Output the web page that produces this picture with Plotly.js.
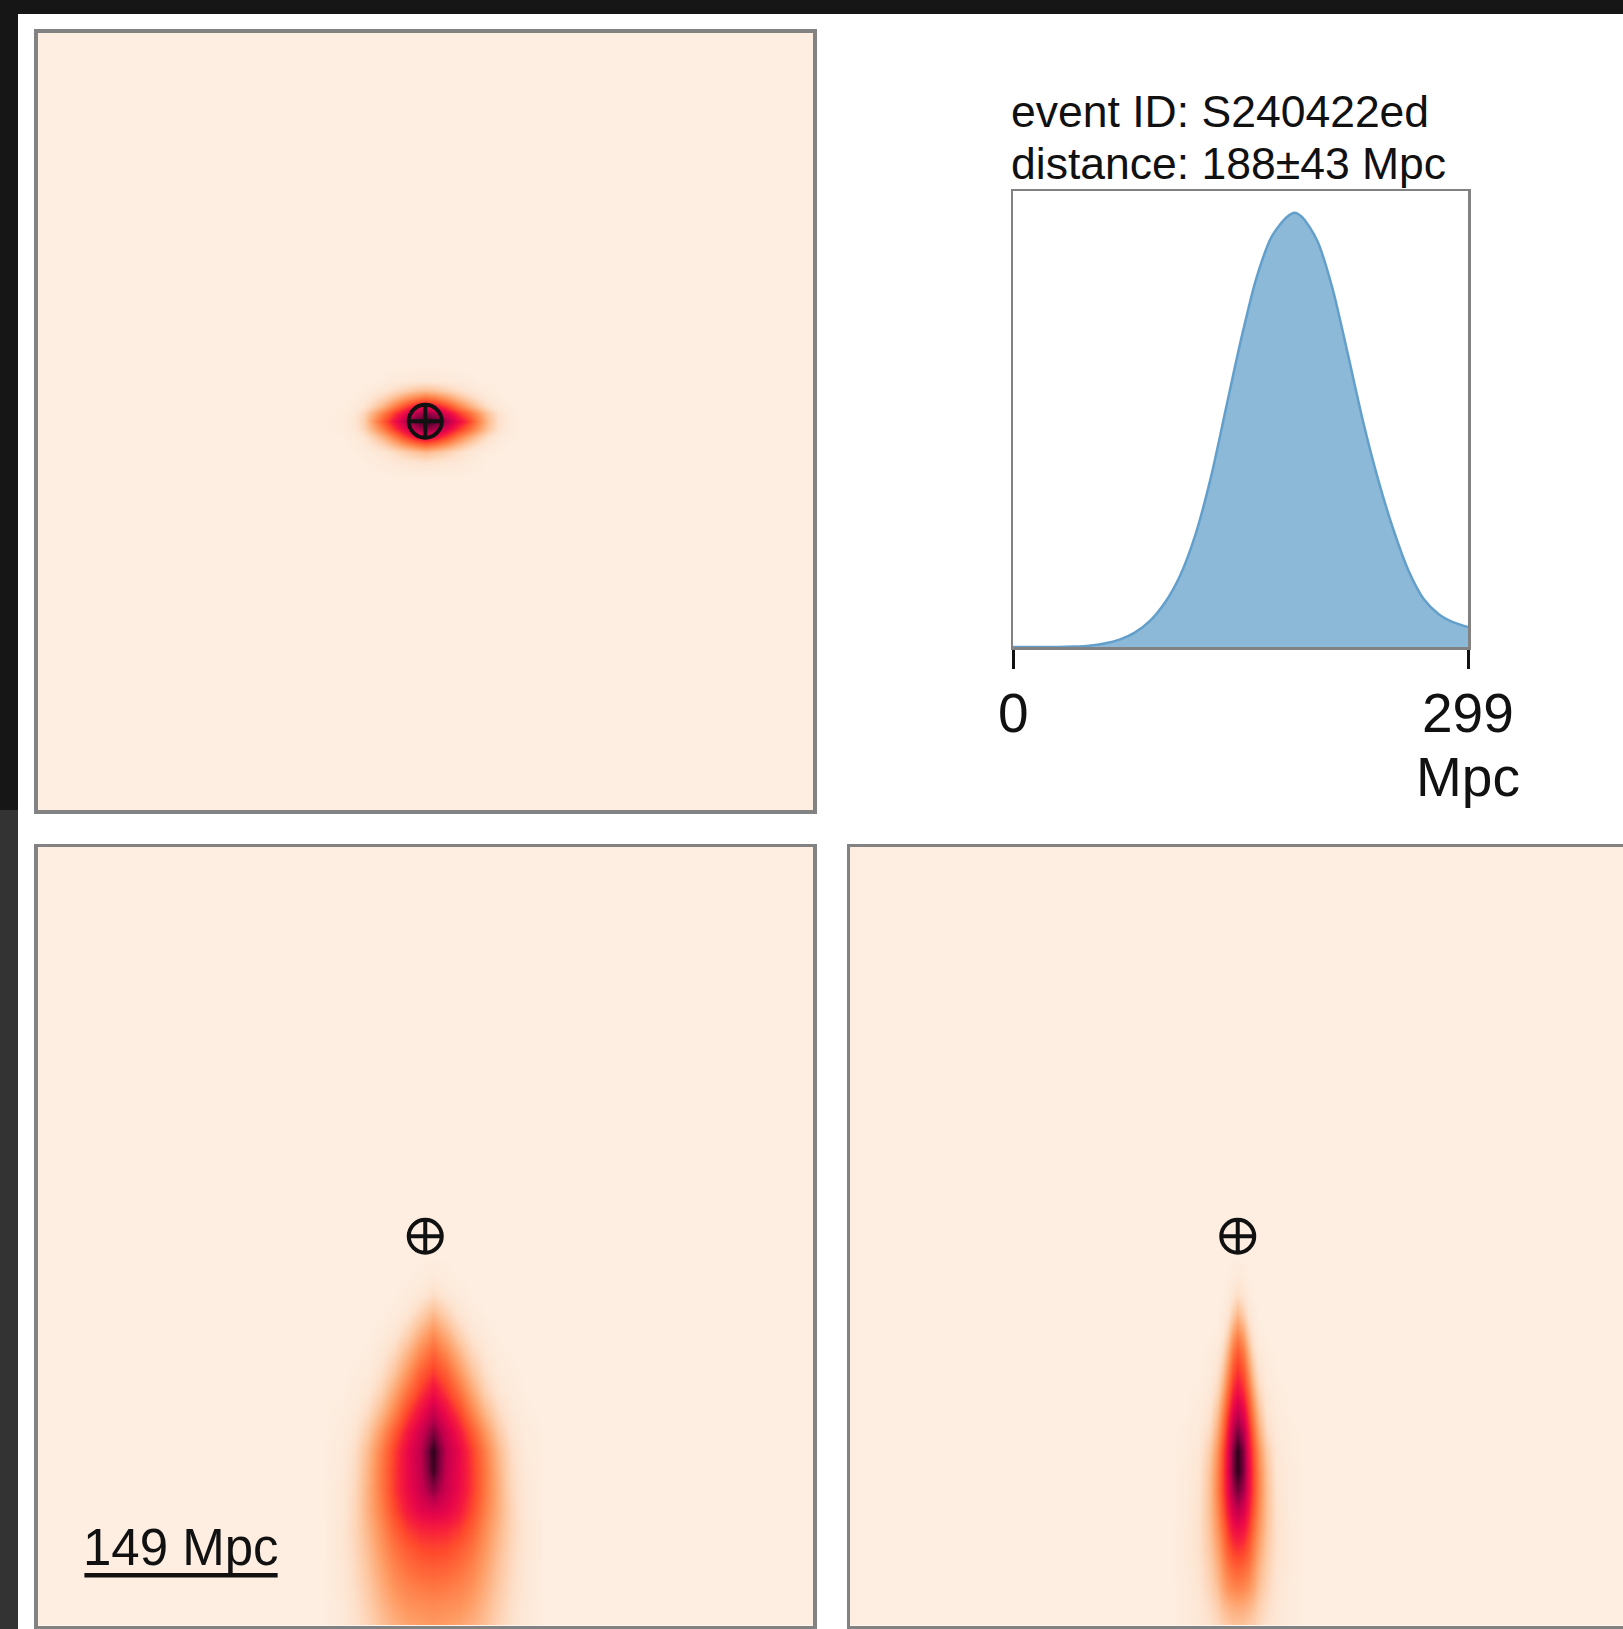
<!DOCTYPE html>
<html>
<head>
<meta charset="utf-8">
<script src="https://cdn.plot.ly/plotly-3.0.1.min.js"></script>
<style>
  html, body { margin: 0; padding: 0; width: 1623px; height: 1629px; overflow: hidden; background: #161616; }
  #edge { position: absolute; left: 0; top: 810px; width: 18px; height: 819px; background: #333333; }
  #fig { position: absolute; left: 18px; top: 14px; width: 1640px; height: 1615px; background: #ffffff; }
</style>
</head>
<body>
<div id="edge"></div>
<div id="fig"></div>
<script>
// ---- event summary ----
const EVENT_ID = 'S240422ed';
const DIST_MEAN = 188;      // Mpc
const DIST_STD = 43;        // Mpc
const DIST_MAX = 299;       // Mpc, half-range of the projections and upper limit of the histogram
const SCALE_MPC = 149;      // Mpc, length of the scale bar

// ---- marginal distance posterior (normalised to its peak) ----
const histDist = [0, 10, 20, 30, 40, 50, 60, 70, 80, 90, 100, 110, 120, 130, 140, 150,
                  160, 170, 180, 185, 190, 200, 210, 220, 230, 240, 250, 260, 270, 280, 290, 299];
const histDensity = [0, 0, 0, 0, 0.001, 0.003, 0.008, 0.017, 0.033, 0.06, 0.103, 0.166,
                     0.26, 0.39, 0.55, 0.71, 0.85, 0.945, 0.99, 1.0, 0.99, 0.935, 0.825, 0.675,
                     0.52, 0.385, 0.27, 0.175, 0.11, 0.075, 0.056, 0.046];

// ---- observer position in every projection ----
const earthX = [0];
const earthY = [0];

// ---- projection seen along the line of sight (top left), density in % of peak ----
const tlX = [-80, -64, -56, -48, -40, -32, -24, -16, -8, 0, 8, 16, 24, 32, 40, 48, 56, 64, 72, 88];
const tlY = [-42, -32, -24, -18, -12, -6, 0, 6, 12, 18, 24, 32, 42];
const tlZ = [
  [0,0,0,0,0,0,0,0,0,0,0,0,0,0,0,0,0,0,0,0],
  [0,0,0,0,1,2,4,5,6,7,6,5,4,2,1,0,0,0,0,0],
  [0,0,0,1,3,6,10,14,18,21,18,14,10,6,3,1,0,0,0,0],
  [0,0,1,3,8,14,22,30,37,42,38,31,23,15,9,4,1,0,0,0],
  [0,0,2,6,14,25,37,49,60,66,61,51,39,28,18,9,3,1,0,0],
  [0,1,4,12,25,39,53,65,77,84,79,68,56,44,32,19,8,2,0,0],
  [0,1,5,14,31,48,62,76,88,96,91,80,67,54,38,22,9,3,0,0],
  [0,1,4,12,25,39,53,65,77,84,79,68,56,44,32,19,8,2,0,0],
  [0,0,2,6,14,25,37,49,60,66,61,51,39,28,18,9,3,1,0,0],
  [0,0,1,3,8,14,22,30,37,42,38,31,23,15,9,4,1,0,0,0],
  [0,0,0,1,3,6,10,14,18,20,18,14,10,6,3,1,0,0,0,0],
  [0,0,0,0,0,1,2,3,4,4,4,3,2,1,0,0,0,0,0,0],
  [0,0,0,0,0,0,0,0,0,0,0,0,0,0,0,0,0,0,0,0]
];

// ---- side projection (bottom left) ----
const blX = [-79, -64, -54, -44, -34, -24, -14, -4, 6, 16, 26, 36, 46, 56, 66, 76, 91];
const blY = [-300, -285, -270, -255, -240, -225, -210, -195, -180, -165, -150, -135, -120,
             -105, -90, -75, -60, -45, -30, -15];
const blZ = [
  [0,4,8,13,19,24,27,29,30,29,27,24,19,13,8,4,0],
  [0,4,9,15,22,28,32,33,34,33,32,28,22,15,9,4,0],
  [0,5,10,17,25,32,36,38,39,38,36,32,25,17,10,5,0],
  [0,5,11,19,28,36,41,44,45,44,41,36,28,19,11,5,0],
  [0,6,12,21,31,40,46,50,51,50,46,40,31,21,12,6,0],
  [0,6,13,23,34,45,53,57,58,57,53,45,34,23,13,6,0],
  [0,5,13,25,37,50,60,67,70,67,60,50,37,25,13,5,0],
  [0,5,12,25,39,53,64,73,84,73,64,53,39,25,12,5,0],
  [0,4,11,24,39,53,65,75,94,75,65,53,39,24,11,4,0],
  [0,3,10,22,37,52,65,76,96,76,65,52,37,22,10,3,0],
  [0,2,7,17,31,46,60,72,86,72,60,46,31,17,7,2,0],
  [0,1,4,11,22,36,51,63,74,63,51,36,22,11,4,1,0],
  [0,0,2,6,14,27,41,53,63,53,41,27,14,6,2,0,0],
  [0,0,1,3,9,19,32,45,53,45,32,19,9,3,1,0,0],
  [0,0,0,1,5,12,23,35,44,35,23,12,5,1,0,0,0],
  [0,0,0,0,2,6,14,25,34,25,14,6,2,0,0,0,0],
  [0,0,0,0,0,2,6,14,22,14,6,2,0,0,0,0,0],
  [0,0,0,0,0,0,2,5,10,5,2,0,0,0,0,0,0],
  [0,0,0,0,0,0,0,1,3,1,0,0,0,0,0,0,0],
  [0,0,0,0,0,0,0,0,0,0,0,0,0,0,0,0,0]
];

// ---- side projection (bottom right) ----
const brX = [-50, -40, -30, -22, -16, -12, -8, -4, 0, 4, 8, 12, 16, 22, 30, 40, 50];
const brY = blY;
const brZ = [
  [0,2,4,8,11,14,16,18,18,18,16,14,11,8,4,2,0],
  [0,2,5,10,15,20,23,25,26,25,23,20,15,10,5,2,0],
  [0,2,6,13,20,27,32,35,36,35,32,27,20,13,6,2,0],
  [0,3,7,15,24,32,39,43,45,43,39,32,24,15,7,3,0],
  [0,3,8,17,28,37,46,52,54,52,46,37,28,17,8,3,0],
  [0,3,8,19,32,42,53,61,64,61,53,42,32,19,8,3,0],
  [0,2,8,20,35,47,59,70,76,70,59,47,35,20,8,2,0],
  [0,2,7,20,37,50,64,80,88,80,64,50,37,20,7,2,0],
  [0,2,6,19,36,50,66,86,96,86,66,50,36,19,6,2,0],
  [0,1,5,16,33,48,64,85,96,85,64,48,33,16,5,1,0],
  [0,1,3,11,27,42,59,77,87,77,59,42,27,11,3,1,0],
  [0,0,2,7,20,35,51,66,75,66,51,35,20,7,2,0,0],
  [0,0,1,4,13,26,42,56,63,56,42,26,13,4,1,0,0],
  [0,0,0,2,8,18,33,48,55,48,33,18,8,2,0,0,0],
  [0,0,0,1,4,11,24,39,47,39,24,11,4,1,0,0,0],
  [0,0,0,0,1,5,14,28,36,28,14,5,1,0,0,0,0],
  [0,0,0,0,0,2,6,15,22,15,6,2,0,0,0,0,0],
  [0,0,0,0,0,0,2,6,10,6,2,0,0,0,0,0,0],
  [0,0,0,0,0,0,0,2,3,2,0,0,0,0,0,0,0],
  [0,0,0,0,0,0,0,0,0,0,0,0,0,0,0,0,0]
];

// ---- figure geometry (page pixels -> paper fractions) ----
const FIG_LEFT = 18, FIG_TOP = 14, FIG_W = 1640, FIG_H = 1615;
const px = v => (v - FIG_LEFT) / FIG_W;
const py = v => 1 - (v - FIG_TOP) / FIG_H;

const FONT = 'Liberation Sans, Arial, Helvetica, sans-serif';
const CREAM = '#fdeee1';
const FRAME = '#828282';
const INK = '#111111';

const densityScale = [
  [0.00, '#fdeee1'],
  [0.08, '#fde3cf'],
  [0.18, '#fdc7a0'],
  [0.30, '#fe9c64'],
  [0.40, '#ff7440'],
  [0.50, '#ff4a2c'],
  [0.58, '#f71e3c'],
  [0.66, '#e8064a'],
  [0.76, '#c2004c'],
  [0.86, '#80003e'],
  [0.94, '#3c0020'],
  [1.00, '#120006']
];

function densityTrace(x, y, z, xa, ya) {
  return {
    type: 'heatmap', x: x, y: y, z: z, xaxis: xa, yaxis: ya,
    zmin: 0, zmax: 100, zsmooth: 'best', colorscale: densityScale,
    showscale: false, hoverinfo: 'skip'
  };
}

function earthTrace(xa, ya) {
  return {
    type: 'scatter', mode: 'markers', x: earthX, y: earthY, xaxis: xa, yaxis: ya,
    marker: { symbol: 'circle-cross-open', size: 33, color: INK, line: { width: 4, color: INK } },
    hoverinfo: 'skip', showlegend: false
  };
}

const scaleX0 = -0.879 * DIST_MAX;
const scaleY = -0.871 * DIST_MAX;

const traces = [
  densityTrace(tlX, tlY, tlZ, 'x', 'y'),
  densityTrace(blX, blY, blZ, 'x2', 'y2'),
  densityTrace(brX, brY, brZ, 'x3', 'y3'),
  earthTrace('x', 'y'),
  earthTrace('x2', 'y2'),
  earthTrace('x3', 'y3'),
  {
    type: 'scatter', mode: 'lines', x: [scaleX0, scaleX0 + SCALE_MPC], y: [scaleY, scaleY],
    xaxis: 'x2', yaxis: 'y2', line: { color: INK, width: 4.5 }, hoverinfo: 'skip', showlegend: false
  },
  {
    type: 'scatter', mode: 'lines', x: histDist, y: histDensity, xaxis: 'x4', yaxis: 'y4',
    fill: 'tozeroy', fillcolor: '#8db9d8', line: { color: '#639fcb', width: 2.5, shape: 'spline', smoothing: 0.8 },
    hoverinfo: 'skip', showlegend: false
  }
];

function panelAxis(domain, anchor) {
  return {
    domain: domain, anchor: anchor, range: [-DIST_MAX, DIST_MAX],
    showgrid: false, zeroline: false, showticklabels: false, ticks: '',
    showline: true, mirror: true, linecolor: FRAME, linewidth: 3.5, fixedrange: true
  };
}

const xTop = [px(37.5), px(813)];
const xRight = [px(850), px(1625.5)];
const yTop = [py(810), py(32.5)];
const yBottom = [py(1625.5), py(847)];

function creamRect(xr, yr) {
  return {
    type: 'rect', xref: xr + ' domain', yref: yr + ' domain', x0: 0, x1: 1, y0: 0, y1: 1,
    fillcolor: CREAM, line: { width: 0 }, layer: 'below'
  };
}

function tickLabel(value, text, top) {
  return {
    xref: 'x4', yref: 'paper', x: value, y: py(top), xanchor: 'center', yanchor: 'top',
    text: text, showarrow: false, font: { size: 55, family: FONT, color: INK }
  };
}

const layout = {
  width: FIG_W, height: FIG_H,
  margin: { l: 0, r: 0, t: 0, b: 0 },
  paper_bgcolor: '#ffffff', plot_bgcolor: 'rgba(0,0,0,0)',
  showlegend: false,
  font: { family: FONT, color: INK },
  xaxis: panelAxis(xTop, 'y'),
  yaxis: panelAxis(yTop, 'x'),
  xaxis2: panelAxis(xTop, 'y2'),
  yaxis2: panelAxis(yBottom, 'x2'),
  xaxis3: panelAxis(xRight, 'y3'),
  yaxis3: panelAxis(yBottom, 'x3'),
  xaxis4: {
    domain: [px(1013), px(1468)], anchor: 'y4', range: [0, DIST_MAX],
    showgrid: false, zeroline: false, showline: true, mirror: true, linecolor: FRAME, linewidth: 2.5,
    ticks: 'outside', ticklen: 19, tickwidth: 3, tickcolor: INK,
    tickvals: [0, DIST_MAX], showticklabels: false, fixedrange: true
  },
  yaxis4: {
    domain: [py(647), py(191)], anchor: 'x4', range: [0, 1.05],
    showgrid: false, zeroline: false, showline: true, mirror: true, linecolor: FRAME, linewidth: 2.5,
    showticklabels: false, ticks: '', fixedrange: true
  },
  shapes: [creamRect('x', 'y'), creamRect('x2', 'y2'), creamRect('x3', 'y3')],
  annotations: [
    {
      xref: 'paper', yref: 'paper', x: px(1009), y: py(138), xanchor: 'left', yanchor: 'bottom',
      text: 'event ID: ' + EVENT_ID, showarrow: false,
      font: { size: 44.5, family: FONT, color: INK }
    },
    {
      xref: 'paper', yref: 'paper', x: px(1009), y: py(190), xanchor: 'left', yanchor: 'bottom',
      text: 'distance: ' + DIST_MEAN + '±' + DIST_STD + ' Mpc', showarrow: false,
      font: { size: 44.5, family: FONT, color: INK }
    },
    tickLabel(0, '0', 680),
    tickLabel(DIST_MAX, String(DIST_MAX), 680),
    tickLabel(DIST_MAX, 'Mpc', 743.5),
    {
      xref: 'x2', yref: 'y2', x: scaleX0 + SCALE_MPC / 2, y: scaleY, xanchor: 'center', yanchor: 'bottom',
      yshift: -3, text: SCALE_MPC + ' Mpc', showarrow: false,
      font: { size: 51, family: FONT, color: INK }
    }
  ]
};

Plotly.newPlot('fig', traces, layout, { staticPlot: true, displayModeBar: false });
</script>
</body>
</html>
